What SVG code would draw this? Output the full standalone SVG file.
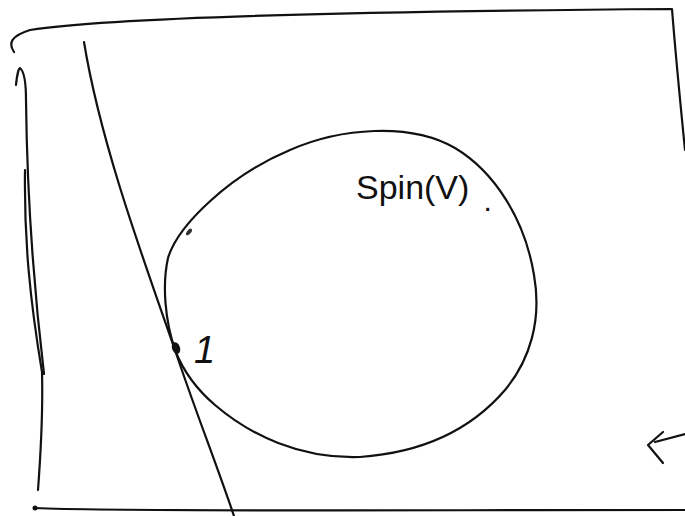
<svg xmlns="http://www.w3.org/2000/svg" width="685" height="516" viewBox="0 0 685 516">
<style>
.s{fill:none;stroke:#111;stroke-width:2.2;stroke-linecap:round;stroke-linejoin:round}
.t{font-family:"Liberation Sans",Arial,sans-serif;fill:#111}
</style>
<rect width="685" height="516" fill="#fff"/>
<g id="frame">
<path class="s" d="M14,52 C8,43 11,36 30,30 C120,16 400,11 672,9 C676,60 680,100 685,150"/>
<path class="s" d="M35,508 C120,512 400,510 685,510" stroke-width="1.8"/>
<circle cx="35" cy="508" r="2.5" fill="#111"/>
</g>
<g id="left-line">
<path class="s" d="M16,85 C17,74 19,68 20,68 C25,72 26,85 26,100 C27,190 34,290 44,374"/>
<path class="s" d="M25,170 C24,240 30,300 42,372 C43,410 41,450 38,490"/>
</g>
<g id="diagonal">
<path class="s" d="M84,42 C100,140 140,250 175,350 C195,410 215,460 234,516"/>
</g>
<g id="spin">
<path class="s" d="M175,350 C165,320 162,285 168,258 C178,225 230,175 290,150 C340,128 410,122 455,148 C495,172 525,220 534,275 C542,320 530,360 505,390 C475,425 430,452 360,457 C300,459 250,435 215,405 C195,388 182,368 175,350 Z"/>
<ellipse cx="176" cy="348" rx="4" ry="6" transform="rotate(-20 176 348)" fill="#111"/>
<ellipse cx="189" cy="232" rx="2" ry="4" transform="rotate(40 189 232)" fill="#333"/>
<text class="t" x="356" y="199" font-size="34">Spin(V)<tspan dx="14" dy="12" font-size="30">.</tspan></text>
<text class="t" x="194" y="363" font-size="38" font-style="italic">1</text>
</g>
<g id="connectors">
<path class="s" d="M685,434 L655,442"/>
<path class="s" d="M663,432 L648,445 L663,463" stroke-width="2.8"/>
</g>
</svg>
